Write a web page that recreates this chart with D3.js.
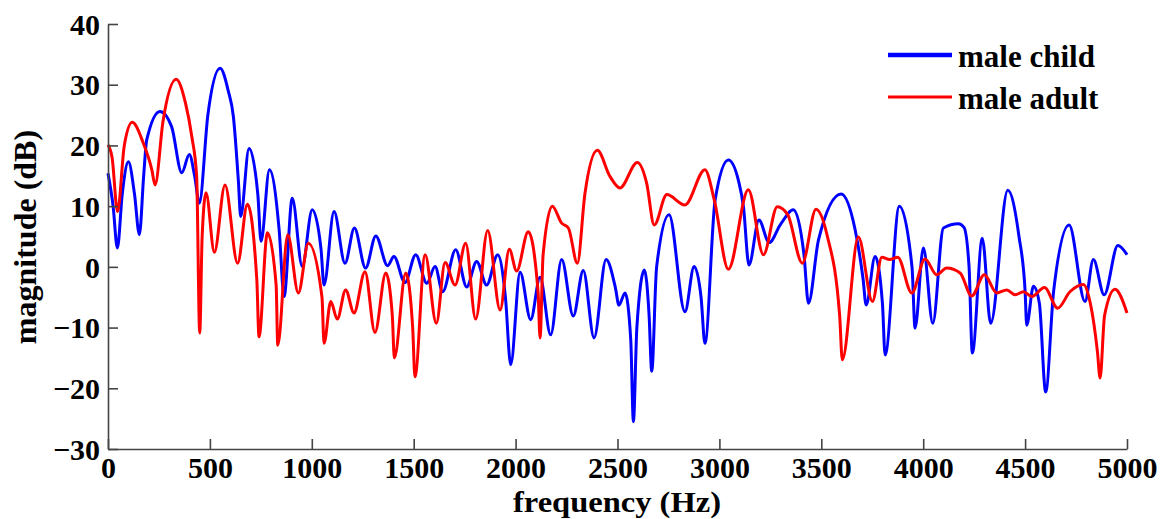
<!DOCTYPE html>
<html lang="en">
<head>
    <meta charset="UTF-8">
    <title>male child vs male adult spectrum</title>
    <script src="https://d3js.org/d3.v7.min.js"></script>
    <style>
        body {
            margin: 0;
            background: #fff;
        }
        svg text {
            font-family: "Liberation Serif", "Times New Roman", serif;
            font-weight: bold;
            fill: #000;
        }
    </style>
</head>
<body>
<div id="chart"></div>

<script>
    // male child (blue), Hz / dB
    var childFreq = [0, 25, 46, 70, 100, 130, 154, 175, 190, 255, 312, 362, 399, 425, 448, 490, 550, 590, 615, 640, 651,
        692, 735, 751, 792, 840, 864, 904, 953, 1002, 1045, 1060, 1109, 1163, 1209, 1264, 1314, 1372, 1403, 1457, 1510,
        1564, 1605, 1642, 1706, 1760, 1809, 1858, 1912, 1950, 1976, 2022, 2074, 2120, 2172, 2226, 2283, 2332, 2385, 2444,
        2490, 2507, 2537, 2565, 2578, 2595, 2632, 2655, 2668, 2692, 2753, 2831, 2876, 2910, 2929, 2979, 3044, 3095, 3118,
        3145, 3194, 3244, 3300, 3363, 3415, 3437, 3486, 3597, 3666, 3705, 3720, 3764, 3800, 3813, 3883, 3945, 3960, 4001,
        4047, 4099, 4173, 4200, 4225, 4241, 4290, 4331, 4415, 4470, 4500, 4508, 4541, 4570, 4601, 4640, 4716, 4794, 4835,
        4888, 4955, 5000];
    var childDb = [15.4, 10, 3.1, 12, 17.3, 12, 5.3, 15, 20.9, 25.6, 23.1, 15.5, 18.5, 15, 10.5, 25, 32.7, 29, 24.8, 14, 8.3,
        19.5, 12, 4.2, 16, 6, -4.9, 11.3, 0.05, 9.4, 3, -3.0, 9.1, 0.6, 6.4, -0.2, 5.1, 0.2, 1.7, -2.6, 2.0,
        -2.7, 0.05, -4.1, 2.8, -3.3, 0.9, -3.0, 2.0, -5, -16.1, -0.9, -8.7, -1.7, -11.2, 1.2, -8.1, -0.6, -11.7, 1.2,
        -3.5, -6.3, -4.3, -12, -25.5, -10, -0.5, -8, -17.2, 0, 8.6, -7.4, 0.05, -5, -12.6, 11, 17.6, 14, 9.9,
        0.3, 7.7, 4.0, 7, 9.4, 2, -6.0, 4.4, 12.0, 6.1, -2, -6.3, 1.7, -6, -14.5, 10.0, 0, -10.1, 3.1,
        -9.3, 6.4, 7.1, 6.5, 0, -14.2, 4.7, -9.3, 12.6, 5, -4, -9.6, -3.2, -6, -20.6, -4, 6.9, -5.7, 1.2,
        -4.6, 3.5, 2.0];

    // male adult (red)
    var adultFreq = [0, 20, 47, 80, 119, 173, 215, 231, 270, 334, 380, 411, 435, 450, 462, 481, 522, 574, 636, 684, 730,
        741, 782, 825, 833, 882, 934, 983, 1050, 1060, 1093, 1125, 1166, 1207, 1261, 1310, 1363, 1395, 1405, 1461, 1495,
        1506, 1556, 1611, 1654, 1703, 1755, 1804, 1863, 1924, 1969, 2005, 2062, 2110, 2120, 2135, 2180, 2226, 2259, 2303,
        2340, 2401, 2463, 2512, 2597, 2643, 2680, 2742, 2831, 2929, 2975, 3044, 3142, 3216, 3284, 3335, 3407, 3474, 3530,
        3590, 3603, 3682, 3751, 3797, 3835, 3875, 3944, 4009, 4066, 4115, 4181, 4238, 4300, 4361, 4410, 4451, 4492, 4533,
        4595, 4660, 4720, 4786, 4820, 4855, 4868, 4890, 4941, 5000];
    var adultDb = [20.1, 18, 9.1, 20, 23.8, 20.4, 16, 13.5, 24, 30.9, 27, 21.5, 14.9, -10.9, 5, 12.2, 2.4, 13.5, 0.6, 10.3, -2,
        -11.5, 5.6, -3, -12.9, 5.3, -4.3, 3.9, -5, -12.6, -5.7, -8.6, -3.8, -7.6, -0.8, -10.8, -1.0, -8, -15.0, -1.0, -10,
        -18.1, 2.0, -9.3, 0.7, -3.0, 3.9, -8.6, 6.0, -7.1, 2.9, -0.7, 5.8, -4, -11.7, 2, 10.0, 7.2, 6.4, 0.6,
        12, 19.2, 14.9, 13.0, 17.2, 13.8, 6.9, 11.9, 10.2, 16.0, 11, -0.4, 12.7, 2.0, 9.9, 8.6, 0.6, 9.5, 5,
        -8, -15.3, 4.9, -5.7, 1.6, 1.2, 1.6, -4.3, 1.3, -1.3, -0.2, -1.0, -4.8, -1.3, -4.3, -3.8, -4.6, -4.1, -4.9,
        -3.4, -6.8, -4.1, -2.9, -6, -14, -18.3, -8, -3.7, -7.6];

    var xTicks = [0, 500, 1000, 1500, 2000, 2500, 3000, 3500, 4000, 4500, 5000];
    var yTicks = [-30, -20, -10, 0, 10, 20, 30, 40];
    var seriesNames = ['male child', 'male adult'];
    var seriesColors = ['#0000ff', '#ff0000'];

    var w = 1160, h = 519;
    var m = {top: 24, left: 108, bottom: 70, right: 33};
    var innerW = w - m.left - m.right;
    var innerH = h - m.top - m.bottom;

    var xScale = d3.scaleLinear().domain([0, 5000]).range([0, innerW]);
    var yScale = d3.scaleLinear().domain([-30, 40]).range([innerH, 0]);

    var svg = d3.select('#chart').append('svg')
        .attr('width', w)
        .attr('height', h);

    var g = svg.append('g').attr('transform', 'translate(' + m.left + ',' + m.top + ')');

    function toPoints(fr, db) {
        return fr.map(function (f, i) { return {f: f, db: db[i]}; });
    }

    var line = d3.line()
        .x(function (d) { return xScale(d.f); })
        .y(function (d) { return yScale(d.db); })
        .curve(d3.curveMonotoneX);

    // blue drawn first, red on top
    g.append('path')
        .datum(toPoints(childFreq, childDb))
        .attr('d', line)
        .attr('fill', 'none')
        .attr('stroke', seriesColors[0])
        .attr('stroke-width', 3)
        .attr('stroke-linejoin', 'round');

    g.append('path')
        .datum(toPoints(adultFreq, adultDb))
        .attr('d', line)
        .attr('fill', 'none')
        .attr('stroke', seriesColors[1])
        .attr('stroke-width', 3)
        .attr('stroke-linejoin', 'round');

    // axes (ticks point inward, like matlab)
    var xAxis = d3.axisBottom(xScale).tickValues(xTicks).tickFormat(d3.format('d'))
        .tickSizeInner(-10).tickSizeOuter(0).tickPadding(8);
    var yAxis = d3.axisLeft(yScale).tickValues(yTicks).tickSizeInner(-10).tickSizeOuter(0).tickPadding(8)
        .tickFormat(function (d) { return d < 0 ? '\u2212' + Math.abs(d) : d; });

    var gx = g.append('g').attr('transform', 'translate(0,' + innerH + ')').call(xAxis);
    var gy = g.append('g').call(yAxis);

    [gx, gy].forEach(function (a) {
        a.selectAll('path, line').attr('stroke', '#444').attr('stroke-width', 1.6);
        a.selectAll('text').style('font-size', '30px').attr('fill', '#000');
    });
    gx.selectAll('text').attr('dy', '0.71em');
    gy.selectAll('text').attr('dy', '0.34em');

    // axis labels
    svg.append('text')
        .attr('x', 617)
        .attr('y', 512)
        .attr('text-anchor', 'middle')
        .attr('textLength', 208)
        .attr('lengthAdjust', 'spacingAndGlyphs')
        .style('font-size', '29px')
        .text('frequency (Hz)');

    svg.append('text')
        .attr('transform', 'translate(36,237) rotate(-90)')
        .attr('text-anchor', 'middle')
        .style('font-size', '32px')
        .text('magnitude (dB)');

    // legend
    var legend = svg.append('g').attr('id', 'legend');
    var legendY = [55, 97];
    var legendW = [4.5, 3];
    seriesNames.forEach(function (name, i) {
        legend.append('line')
            .attr('x1', 888).attr('x2', 952)
            .attr('y1', legendY[i]).attr('y2', legendY[i])
            .attr('stroke', seriesColors[i])
            .attr('stroke-width', legendW[i]);
        legend.append('text')
            .attr('x', 958)
            .attr('y', legendY[i] + 12)
            .style('font-size', '31px')
            .text(name);
    });
</script>
</body>
</html>
